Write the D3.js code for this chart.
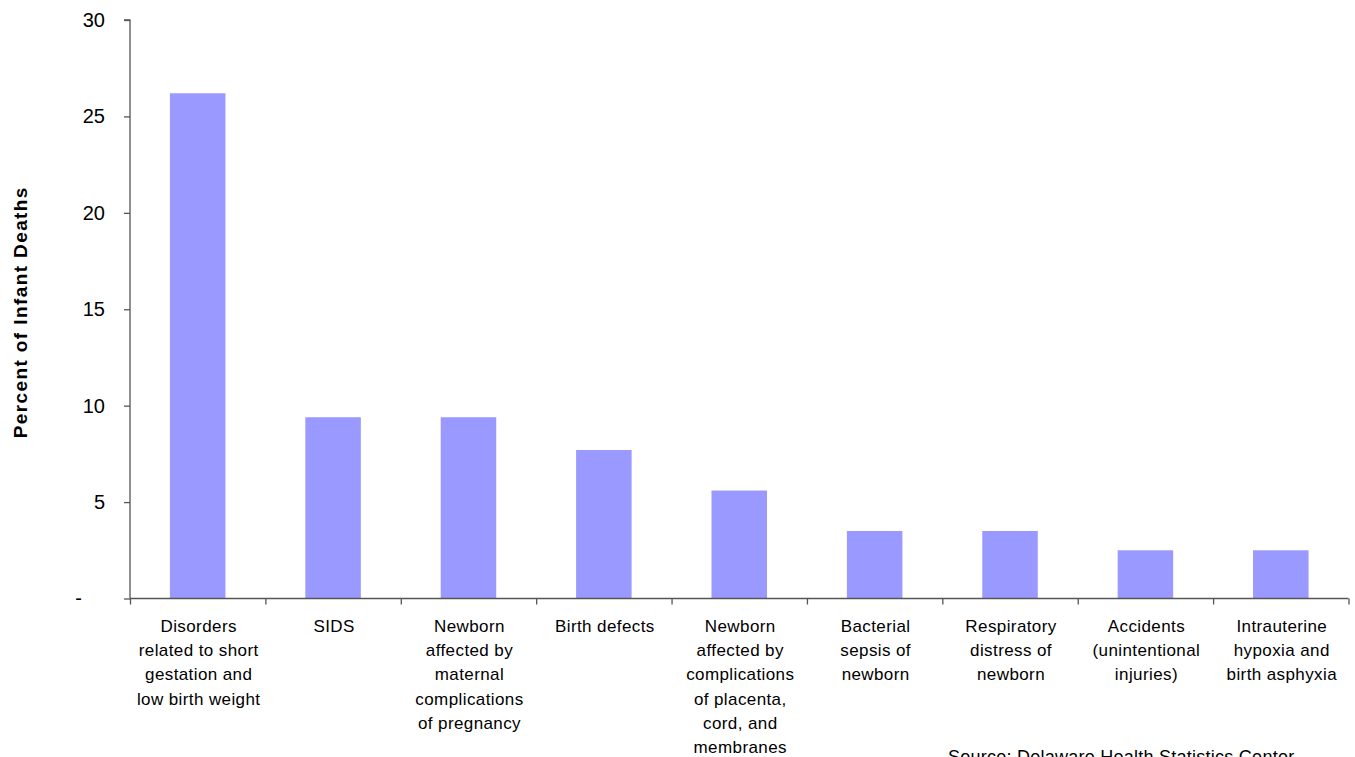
<!DOCTYPE html>
<html><head><meta charset="utf-8">
<script src="https://cdn.jsdelivr.net/npm/d3@7"></script>
<style>body{margin:0;background:#fff;} svg{display:block;font-family:"Liberation Sans",Arial,sans-serif;}</style>
</head><body>
<svg id="c" width="1355" height="757"></svg>
<script>
const categories = [
  ["Disorders","related to short","gestation and","low birth weight"],
  ["SIDS"],
  ["Newborn","affected by","maternal","complications","of pregnancy"],
  ["Birth defects"],
  ["Newborn","affected by","complications","of placenta,","cord, and","membranes"],
  ["Bacterial","sepsis of","newborn"],
  ["Respiratory","distress of","newborn"],
  ["Accidents","(unintentional","injuries)"],
  ["Intrauterine","hypoxia and","birth asphyxia"]
];
const values = [26.2, 9.4, 9.4, 7.7, 5.6, 3.5, 3.5, 2.5, 2.5];
const yTicks = [0, 5, 10, 15, 20, 25, 30];
const yTickLabels = ["-", "5", "10", "15", "20", "25", "30"];
const yTitle = "Percent of Infant Deaths";
const source = "Source:  Delaware Health Statistics Center";

(function(){
const svg = d3.select("#c");
const mL = 130, mR = 1348.5, mT = 20, mB = 598.5;
const idx = d3.range(categories.length);
const x = d3.scaleBand().domain(idx).range([mL, mR]).paddingInner(0.59).paddingOuter(0.295);
const y = d3.scaleLinear().domain([0, 30]).range([mB, mT]);

svg.append("g").selectAll("rect").data(values).join("rect")
  .attr("x", (d,i) => x(i)).attr("width", x.bandwidth())
  .attr("y", d => y(d)).attr("height", d => y(0) - y(d))
  .attr("fill", "#9999FF");

const ya = svg.append("g").attr("transform", `translate(${mL},0)`)
  .call(d3.axisLeft(y).tickValues(yTicks).tickSize(6).tickPadding(19)
    .tickFormat((d,i) => yTickLabels[i]));
ya.select(".domain").attr("stroke", "#555").attr("stroke-width", 1.3).attr("d", `M-6,${mT}H0V${mB}`);
ya.selectAll(".tick line").attr("stroke", "#555").attr("stroke-width", 1.3);
ya.selectAll(".tick text").attr("font-size", 20).attr("fill", "#000")
  .attr("font-family", '"Liberation Sans",Arial,sans-serif')
  .attr("dx", d => d === 0 ? -23 : 0);

const xb = d3.scaleLinear().domain([0, categories.length]).range([mL, mR]);
const xa = svg.append("g").attr("transform", `translate(0,${mB})`)
  .call(d3.axisBottom(xb).tickValues(d3.range(categories.length + 1)).tickSize(6).tickFormat(""));
xa.select(".domain").attr("stroke", "#555").attr("stroke-width", 1.3).attr("d", `M${mL},0H${mR}`);
xa.selectAll(".tick line").attr("stroke", "#555").attr("stroke-width", 1.3);

const lab = svg.append("g");
categories.forEach((lines, i) => {
  const cx = x(i) + x.bandwidth()/2 + 1;
  const t = lab.append("text").attr("text-anchor", "middle").attr("font-size", 17)
    .attr("letter-spacing", 0.4).attr("fill", "#000");
  lines.forEach((l, j) => t.append("tspan").attr("x", cx).attr("y", 632 + j*24.2).text(l));
});

svg.append("text").attr("transform", `translate(27,${(mT+mB)/2 + 3}) rotate(-90)`)
  .attr("text-anchor", "middle").attr("font-size", 19).attr("letter-spacing", 1.4)
  .attr("font-weight", "bold").text(yTitle);

svg.append("text").attr("x", 948).attr("y", 763).attr("font-size", 18).attr("letter-spacing", 0.25)
  .attr("fill", "#000").text(source);
})();
</script>
</body></html>
